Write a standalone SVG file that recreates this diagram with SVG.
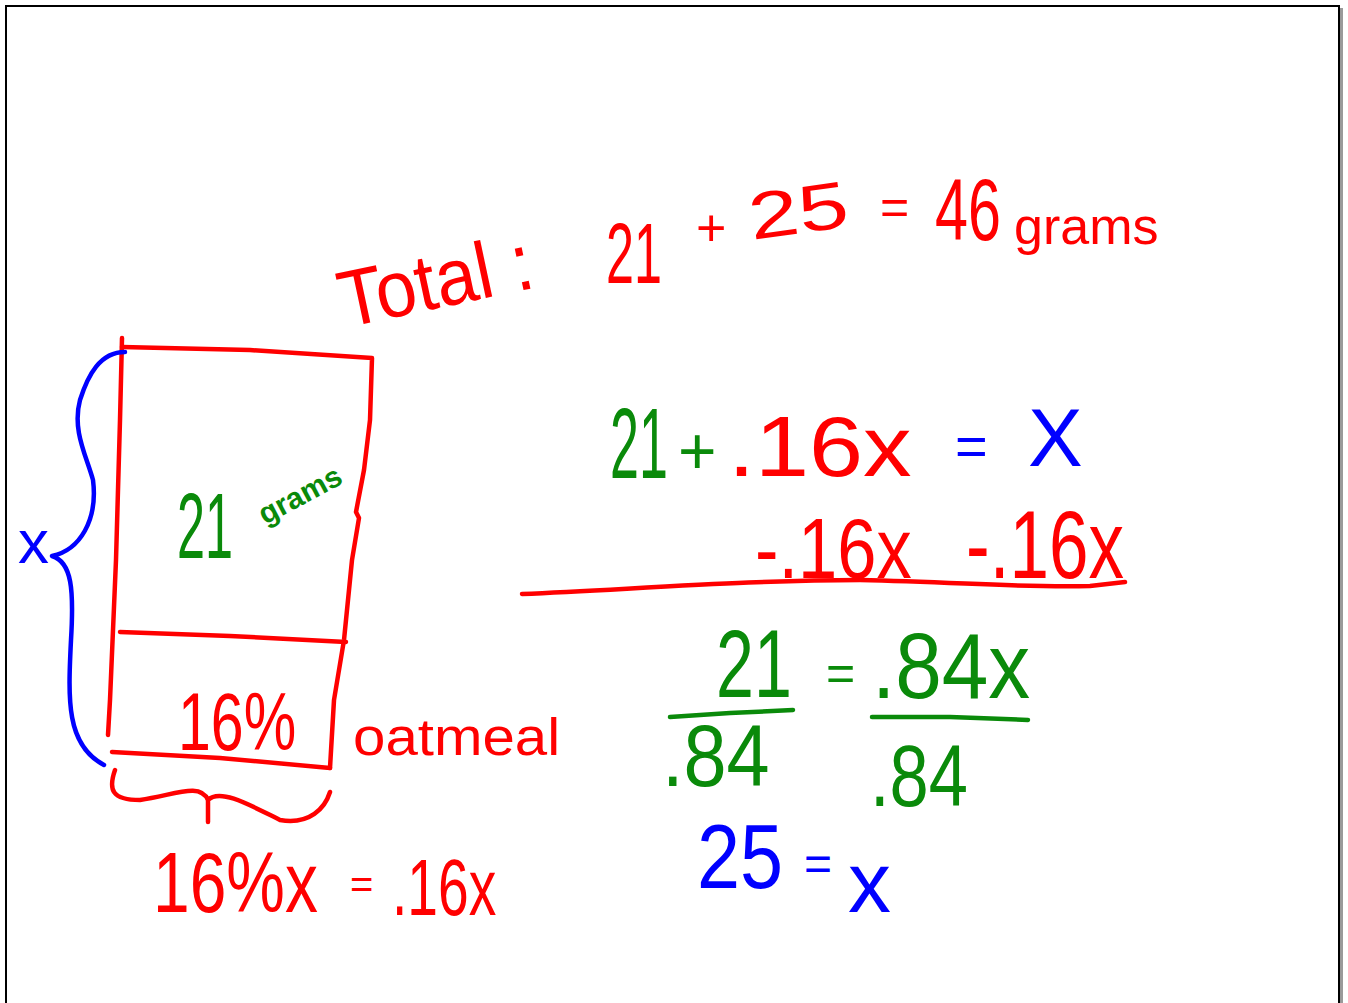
<svg xmlns="http://www.w3.org/2000/svg" width="1348" height="1003" viewBox="0 0 1348 1003">
<style>
.r{fill:#ff0000}.g{fill:#0a8a0a}.b{fill:#0000ff}
text{font-family:"Liberation Sans",Arial,sans-serif}
.ln{fill:none;stroke-width:4.5;stroke-linecap:round;stroke-linejoin:round}
.sr{stroke:#ff0000}.sg{stroke:#0a8a0a}.sb{stroke:#0000ff}
</style>
<rect x="0" y="0" width="1348" height="1003" fill="#ffffff"/>
<g id="frame">
<line x1="1341.5" y1="8" x2="1341.5" y2="1003" stroke="#9a9a9a" stroke-width="3"/>
<rect x="6" y="6" width="1333" height="1010" fill="none" stroke="#000" stroke-width="2"/>
</g>
<g id="total">
<text class="r" font-size="80" transform="translate(345 328) rotate(-12) scale(0.92 1)">Total :</text>
<text class="r" font-size="86" transform="translate(606 283) scale(0.585 1)">21</text>
<text class="r" x="696" y="246" font-size="52">+</text>
<text class="r" font-size="66" transform="translate(752 240) rotate(-8) scale(1.36 1)">25</text>
<text class="r" x="880" y="224" font-size="50">=</text>
<text class="r" font-size="88" transform="translate(935 240) scale(0.674 1)">46</text>
<text class="r" x="1014" y="244" font-size="52">grams</text>
</g>
<g id="bar-model">
<path class="ln sr" d="M122,338 L120,420 L116,560 L110,700 L108,735"/>
<path class="ln sr" d="M122,347 L250,350 L372,358 L370,420 L364,470 L356,512 L359,518 L352,560 L344,640 L334,700 L330,768"/>
<path class="ln sr" d="M120,632 L230,636 L346,642"/>
<path class="ln sr" d="M112,752 L220,758 L330,768"/>
<text class="g" font-size="92" transform="translate(177 558) scale(0.547 1)">21</text>
<text class="g" font-size="30" font-weight="bold" transform="translate(265 525) rotate(-28)">grams</text>
<text class="r" font-size="82" transform="translate(178 750) scale(0.72 1)">16%</text>
<text class="r" font-size="52" transform="translate(353 755) scale(1.12 1)">oatmeal</text>
</g>
<g id="x-brace">
<path class="ln sb" d="M125,352 C100,352 88,375 80,400 C72,430 86,455 93,480 C98,520 80,550 52,556 C72,562 74,590 71,640 C68,700 66,745 104,765"/>
<text class="b" x="18" y="563" font-size="62">x</text>
</g>
<g id="bottom-brace">
<path class="ln sr" d="M115,770 C108,790 112,800 140,800 C175,795 200,782 208,800 L208,822 M208,800 C220,788 250,805 280,820 C310,825 325,808 330,792"/>
<text class="r" font-size="86" transform="translate(153 912) scale(0.767 1)">16%x</text>
<text class="r" x="350" y="898" font-size="40">=</text>
<text class="r" font-size="80" transform="translate(392 915) scale(0.69 1)">.16x</text>
</g>
<g id="equation">
<text class="g" font-size="100" transform="translate(610 478) scale(0.52 1)">21</text>
<text class="g" x="678" y="474" font-size="66">+</text>
<text class="r" font-size="86" transform="translate(728 476) scale(1.13 1)">.16x</text>
<text class="b" x="955" y="465" font-size="56">=</text>
<text class="b" x="1028" y="466" font-size="82">X</text>
<text class="r" font-size="86" transform="translate(755 578) scale(0.82 1)">-.16x</text>
<text class="r" font-size="96" transform="translate(966 578) scale(0.74 1)">-.16x</text>
<path class="ln sr" d="M522,594 C650,588 760,580 860,580 C960,582 1020,588 1090,586 L1125,582"/>
<text class="g" font-size="96" transform="translate(716 697) scale(0.71 1)">21</text>
<text class="g" x="826" y="690" font-size="50">=</text>
<text class="g" font-size="92" transform="translate(872 698) scale(0.91 1)">.84x</text>
<path class="ln sg" d="M670,717 L730,713 L793,710"/>
<path class="ln sg" d="M872,717 L950,717 L1028,720"/>
<text class="g" font-size="88" transform="translate(662 786) scale(0.88 1)">.84</text>
<text class="g" font-size="88" transform="translate(870 806) scale(0.8 1)">.84</text>
<text class="b" font-size="90" transform="translate(697 888) scale(0.86 1)">25</text>
<text class="b" x="804" y="880" font-size="48">=</text>
<text class="b" x="848" y="912" font-size="86">x</text>
</g>
</svg>
